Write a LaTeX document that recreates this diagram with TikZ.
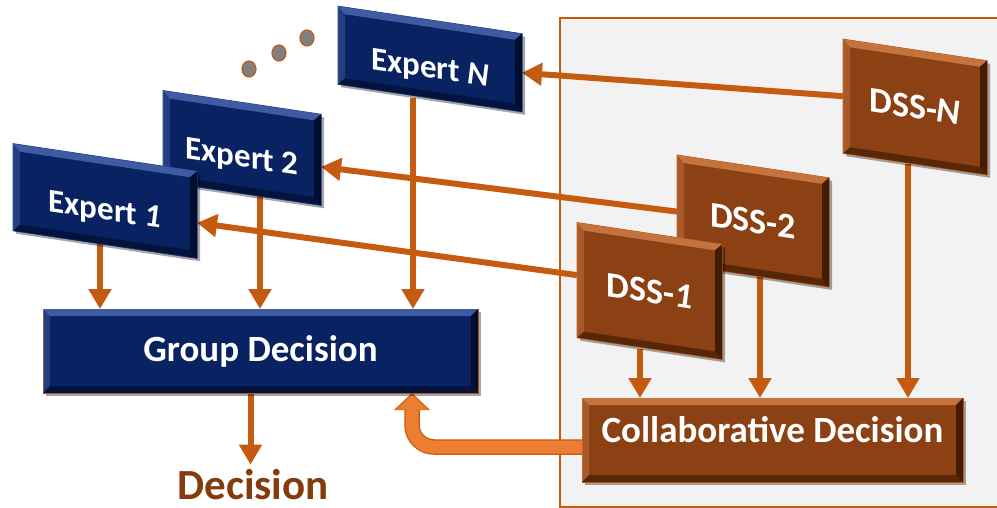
\documentclass[tikz,border=0pt]{standalone}
\usepackage{fontspec}
\setmainfont{Carlito}
\usetikzlibrary{arrows.meta,shadows,backgrounds}

\definecolor{navy}{RGB}{8,34,98}
\definecolor{navyhi}{RGB}{62,92,162}
\definecolor{navylo}{RGB}{0,14,48}
\definecolor{navyedge}{RGB}{40,66,130}
\definecolor{rust}{RGB}{140,65,20}
\definecolor{rusthi}{RGB}{196,114,62}
\definecolor{rustlo}{RGB}{66,28,4}
\definecolor{flowc}{RGB}{197,90,17}
\definecolor{bigflow}{RGB}{237,125,49}
\definecolor{panelc}{RGB}{242,242,242}
\definecolor{outc}{RGB}{132,60,12}

\newcommand\bevel[4]{%
  \coordinate (#1-a) at ([shift={(7pt,-7pt-#2)}]#1.north west);
  \coordinate (#1-b) at ([shift={(-7pt,-7pt+#2)}]#1.north east);
  \coordinate (#1-c) at ([shift={(-7pt,7pt+#2)}]#1.south east);
  \coordinate (#1-d) at ([shift={(7pt,7pt-#2)}]#1.south west);
  \fill[#3] (#1.north west) -- (#1.north east) -- (#1-b) -- (#1-a) -- cycle;
  \fill[#3,opacity=.5] (#1.north west) -- (#1-a) -- (#1-d) -- (#1.south west) -- cycle;
  \fill[#4,opacity=.7] (#1.south west) -- (#1-d) -- (#1-c) -- (#1.south east) -- cycle;
  \fill[#4] (#1.north east) -- (#1-b) -- (#1-c) -- (#1.south east) -- cycle;
}

\tikzset{
  boxbase/.style={outer sep=0pt, inner sep=0pt, line width=1pt, text=white,
    drop shadow={shadow xshift=3pt, shadow yshift=-3pt, opacity=.35, fill=black}},
  expert/.style={boxbase, fill=navy, draw=navyedge, yslant=-.15,
    text height=38pt, text depth=0pt, font=\fontsize{33}{36}\selectfont\bfseries},
  dss/.style={boxbase, fill=rust, draw=flowc, yslant=-.15,
    font=\fontsize{36}{40}\selectfont\bfseries},
  decbox/.style={boxbase, minimum height=84pt, font=\fontsize{37}{40}\selectfont\bfseries},
  flow/.style={draw=flowc, line width=6pt, -{Triangle[width=22pt,length=20pt]}},
  bigout/.style={draw=flowc, line width=15.5pt, rounded corners=22pt,
    -{Triangle[width=35pt,length=17pt]}},
  bigin/.style={draw=bigflow, line width=13pt, rounded corners=22pt, shorten >=1.5pt,
    -{Triangle[width=31pt,length=15pt]}},
  panel/.style={fill=panelc, draw=flowc, line width=1.2pt},
  dot/.style={fill=black!50, draw=flowc, line width=1.2pt}
}

\begin{document}
\begin{tikzpicture}[x=1pt,y=-1pt]
\useasboundingbox (0,0) rectangle (997,508);

\node[expert, minimum width=158pt, minimum height=91pt] (expertB) at (242,148) {Expert 2};
\bevel{expertB}{1.05pt}{navyhi}{navylo}
\node[expert, minimum width=184pt, minimum height=87pt] (expertA) at (105,201) {Expert \textit{1}};
\bevel{expertA}{1.05pt}{navyhi}{navylo}
\node[expert, minimum width=184pt, minimum height=78pt] (expertN) at (430,59) {Expert \textit{N}};
\bevel{expertN}{1.05pt}{navyhi}{navylo}

\foreach \p in {(249,69),(279,53),(307,38)}
  \draw[dot] \p ellipse (7 and 8);

\node[dss, minimum width=144pt, minimum height=114pt] (dssN) at (915,107) {DSS-\textit{N}};
\bevel{dssN}{1.05pt}{rusthi}{rustlo}
\node[dss, minimum width=152pt, minimum height=109pt] (dssB) at (753,221) {DSS-2};
\bevel{dssB}{1.05pt}{rusthi}{rustlo}
\node[dss, minimum width=145pt, minimum height=115pt] (dssA) at (649.5,291) {DSS-\textit{1}};
\bevel{dssA}{1.05pt}{rusthi}{rustlo}

\node[decbox, fill=navy, draw=flowc, minimum width=435pt] (group) at (260.5,351) {Group Decision};
\bevel{group}{0pt}{navyhi}{navylo}
\node[decbox, fill=rust, draw=flowc, minimum width=381pt, text height=25pt, text depth=20pt] (collab) at (772.5,440) {Collaborative Decision};
\bevel{collab}{0pt}{rusthi}{rustlo}

\node[font=\fontsize{43}{46}\selectfont\bfseries, text=outc, anchor=base, inner sep=0pt] (decision) at (253,499) {Decision};

\begin{pgfonlayer}{background}
\draw[panel] (560,18) rectangle (1005,507);
\draw[flow] (dssN.west) -- (expertN.east);
\draw[flow] ([yshift=-2pt]dssB.west) -- ([yshift=-7pt]expertB.east);
\draw[flow] ([yshift=5pt]dssA.west) -- ([yshift=-8pt]expertA.east);
\draw[flow] ([xshift=-5pt]expertA.south) -- ([xshift=-5pt]expertA.south |- group.north);
\draw[flow] ([xshift=18pt]expertB.south) -- ([xshift=18pt]expertB.south |- group.north);
\draw[flow] ([xshift=-17pt]expertN.south) -- ([xshift=-17pt]expertN.south |- group.north);
\draw[flow] ([xshift=-9.5pt]dssA.south) -- ([xshift=-9.5pt]dssA.south |- collab.north);
\draw[flow] ([xshift=7pt]dssB.south) -- ([xshift=7pt]dssB.south |- collab.north);
\draw[flow] ([xshift=-7pt]dssN.south) -- ([xshift=-7pt]dssN.south |- collab.north);
\draw[flow, shorten >=4pt] ([xshift=-10pt]group.south) -- ([xshift=-10pt]group.south |- decision.north);
\draw[bigout] ([yshift=-7pt]collab.west) -| ([xshift=151.5pt]group.south);
\draw[bigin] ([yshift=-7pt]collab.west) -| ([xshift=151.5pt]group.south);
\end{pgfonlayer}
\end{tikzpicture}
\end{document}
